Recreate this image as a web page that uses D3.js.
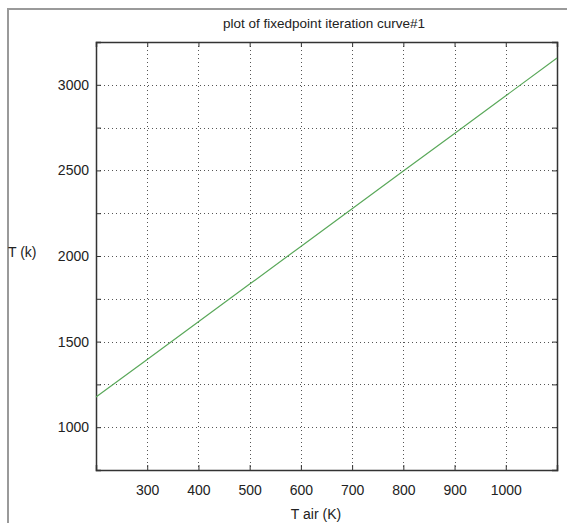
<!DOCTYPE html>
<html>
<head>
<meta charset="utf-8">
<script src="https://cdn.jsdelivr.net/npm/d3@7"></script>
<style>
  body { margin: 0; background: #fff; }
  text { font-family: "Liberation Sans", Arial, sans-serif; fill: #222; }
</style>
</head>
<body>
<div id="chart"></div>
<script>
// values
const tAir = [200, 300, 400, 500, 600, 700, 800, 900, 1000, 1100];
const tVal = [1176, 1396, 1616, 1836, 2056, 2276, 2496, 2716, 2936, 3156];
const xTicks = [300, 400, 500, 600, 700, 800, 900, 1000];
const yTicks = [1000, 1250, 1500, 1750, 2000, 2250, 2500, 2750, 3000];
const yLabels = [1000, 1500, 2000, 2500, 3000];

const width = 567, height = 523;
const plotL = 96, plotT = 42, plotR = 557, plotB = 470;

const svg = d3.select('#chart').append('svg')
  .attr('width', width)
  .attr('height', height);

// outer figure frame
svg.append('path')
  .attr('d', 'M8,' + height + 'V9H' + width)
  .attr('fill', 'none')
  .attr('stroke', '#9a9a9a')
  .attr('stroke-width', 2);

const x = d3.scaleLinear().domain([200, 1100]).range([plotL, plotR]);
const y = d3.scaleLinear().domain([750, 3250]).range([plotB, plotT]);

// dotted grid
const grid = svg.append('g')
  .attr('stroke', '#555')
  .attr('stroke-width', 1)
  .attr('stroke-dasharray', '1,3');
grid.selectAll('.gx').data(xTicks).enter().append('line')
  .attr('x1', d => Math.round(x(d)) + 0.5).attr('x2', d => Math.round(x(d)) + 0.5)
  .attr('y1', plotT).attr('y2', plotB);
grid.selectAll('.gy').data(yTicks).enter().append('line')
  .attr('y1', d => Math.round(y(d)) + 0.5).attr('y2', d => Math.round(y(d)) + 0.5)
  .attr('x1', plotL).attr('x2', plotR);

// axes with inward ticks, box on all sides
const xAxis = d3.axisBottom(x).tickValues(xTicks).tickSize(-5).tickPadding(15).tickFormat(d => d);
const xTop = d3.axisTop(x).tickValues(xTicks).tickSize(-5).tickFormat('');
const yAxis = d3.axisLeft(y).tickValues(yTicks).tickSize(-5).tickPadding(7)
  .tickFormat(d => yLabels.includes(d) ? d : '');
const yRight = d3.axisRight(y).tickValues(yTicks).tickSize(-5).tickFormat('');

svg.append('g').attr('transform', 'translate(0,' + plotB + ')').call(xAxis);
svg.append('g').attr('transform', 'translate(0,' + plotT + ')').call(xTop);
svg.append('g').attr('transform', 'translate(' + plotL + ',0)').call(yAxis);
svg.append('g').attr('transform', 'translate(' + plotR + ',0)').call(yRight);

svg.selectAll('.domain').attr('stroke', '#333').attr('stroke-width', 1.5);
svg.selectAll('.tick line').attr('stroke', '#333');
svg.selectAll('.tick text').attr('font-size', 14).attr('fill', '#333')
  .attr('font-family', '"Liberation Sans", Arial, sans-serif');

// data line
const line = d3.line().x((d, i) => x(tAir[i])).y(d => y(d));
svg.append('path')
  .datum(tVal)
  .attr('d', line)
  .attr('fill', 'none')
  .attr('stroke', '#5aa85a')
  .attr('stroke-width', 1.2);

// titles
svg.append('text')
  .attr('x', 324).attr('y', 28)
  .attr('text-anchor', 'middle')
  .attr('font-size', 13.5)
  .text('plot of fixedpoint iteration curve#1');
svg.append('text')
  .attr('x', 316).attr('y', 519)
  .attr('text-anchor', 'middle')
  .attr('font-size', 14)
  .text('T air (K)');
svg.append('text')
  .attr('x', 8).attr('y', 257)
  .attr('font-size', 14)
  .text('T (k)');
</script>
</body>
</html>
